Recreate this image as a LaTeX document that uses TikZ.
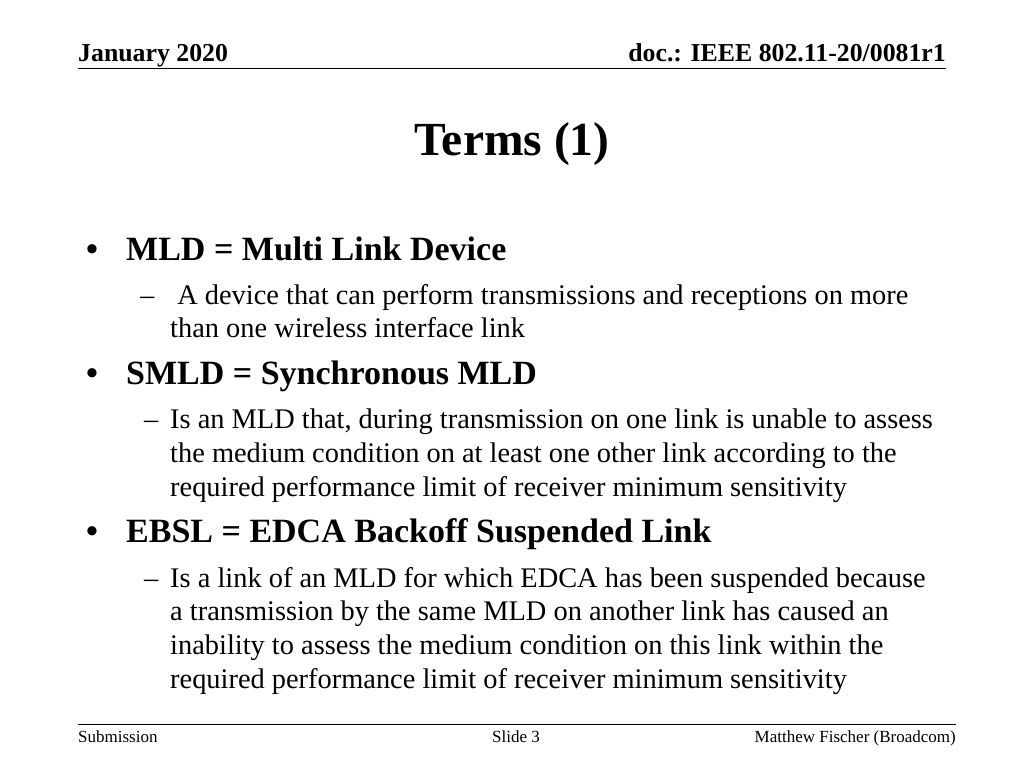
\documentclass[tikz,border=0pt]{standalone}
\usepackage{fontspec}
\setmainfont{Liberation Serif}
\begin{document}
\begin{tikzpicture}[x=1pt,y=-1pt,
  hd/.style={anchor=base west,inner sep=0pt,font=\fontsize{25.8}{28}\selectfont\bfseries},
  bl/.style={anchor=base west,inner sep=0pt,font=\fontsize{34}{38}\selectfont\bfseries},
  sb/.style={anchor=base west,inner sep=0pt,font=\fontsize{28.4}{31}\selectfont},
  ft/.style={anchor=base,inner sep=0pt,font=\fontsize{17}{19}\selectfont}]
\useasboundingbox (0,0) rectangle (1024,768);
\node[hd] (date) at (78,61) {January 2020};
\node[hd,anchor=base east] (doc) at (946,61) {doc.: IEEE 802.11-20/0081r1};
\draw[line width=1pt] (78,68) coordinate (h1) -- (946,68) coordinate (h2);
\node[anchor=base,inner sep=0pt,font=\fontsize{47.5}{50}\selectfont\bfseries] (title) at (512,155) {Terms (1)};
\node[bl] (b1d) at (86,260) {\textbullet};
\node[bl] (b1) at (126,260) {MLD = Multi Link Device};
\node[sb] (d1) at (140,304) {–};
\node[sb] (s1a) at (170,304) {\ A device that can perform transmissions and receptions on more};
\node[sb] (s1b) at (170,337) {than one wireless interface link};
\node[bl] (b2d) at (86,384) {\textbullet};
\node[bl] (b2) at (126,384) {SMLD = Synchronous MLD};
\node[sb] (d2) at (144,428) {–};
\node[sb] (s2a) at (170,428) {Is an MLD that, during transmission on one link is unable to assess};
\node[sb] (s2b) at (170,462) {the medium condition on at least one other link according to the};
\node[sb] (s2c) at (170,496) {required performance limit of receiver minimum sensitivity};
\node[bl] (b3d) at (86,542) {\textbullet};
\node[bl] (b3) at (126,542) {EBSL = EDCA Backoff Suspended Link};
\node[sb] (d3) at (144,587) {–};
\node[sb] (s3a) at (170,587) {Is a link of an MLD for which EDCA has been suspended because};
\node[sb] (s3b) at (170,620) {a transmission by the same MLD on another link has caused an};
\node[sb] (s3c) at (170,654) {inability to assess the medium condition on this link within the};
\node[sb] (s3d) at (170,688) {required performance limit of receiver minimum sensitivity};
\draw[line width=1pt] (78,724) coordinate (f1) -- (956,724) coordinate (f2);
\node[ft,anchor=base west] (sub) at (78,742) {Submission};
\node[ft] (slide) at (516,742) {Slide 3};
\node[ft,anchor=base east] (auth) at (956,742) {Matthew Fischer (Broadcom)};
\end{tikzpicture}
\end{document}
